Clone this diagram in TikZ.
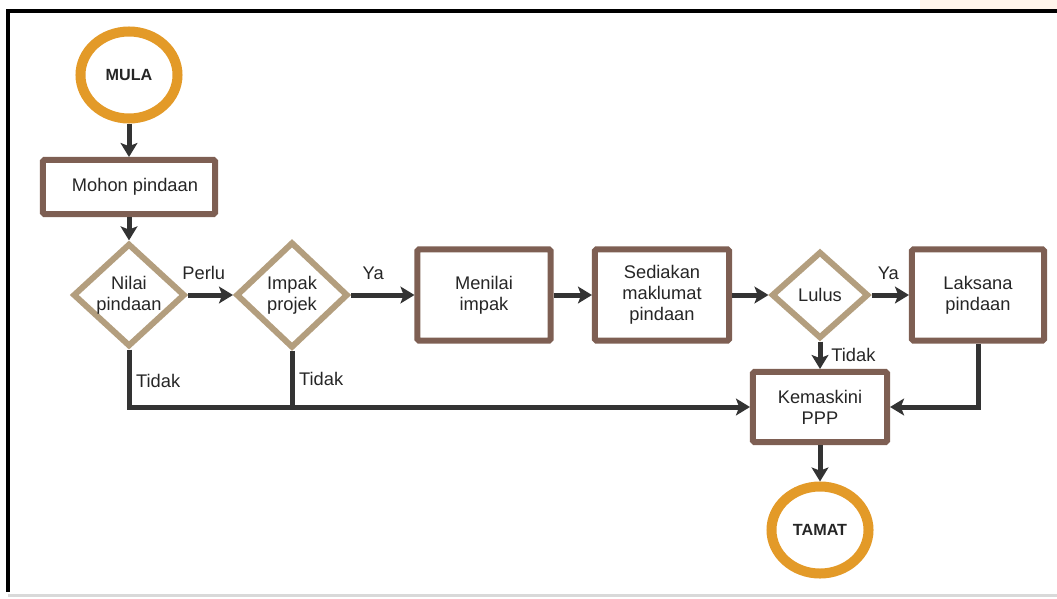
\documentclass[tikz,border=0pt]{standalone}
\usepackage{fontspec}
\setmainfont{Liberation Sans}
\usepackage{tikz}
\usetikzlibrary{arrows.meta, shapes.geometric}

\definecolor{terminal}{HTML}{E39A28}
\definecolor{process}{HTML}{7E5F53}
\definecolor{decision}{HTML}{B39E7E}
\definecolor{flow}{HTML}{333333}

\begin{document}
\begin{tikzpicture}[
  x=0.025cm, y=-0.025cm,
  font=\fontsize{13}{15}\selectfont,
  every node/.style={align=center, text=black!85},
  end node/.style={ellipse, draw=terminal, line width=0.25cm,
    minimum width=2.425cm, minimum height=2.175cm,
    font=\fontsize{11.5}{13}\selectfont\bfseries},
  box node/.style={rectangle, draw=process, line width=0.15cm,
    rounded corners=1pt, minimum height=2.275cm},
  test node/.style={diamond, draw=decision, line width=0.15cm, inner sep=0pt},
  flow line/.style={draw=flow, line width=0.125cm},
  flow arrow/.style={flow line,
    -{Stealth[length=0.35cm, width=0.42cm, inset=0.08cm]}},
  flow label/.style={above=6pt},
]
  \useasboundingbox (0,0) rectangle (1057,598);

  % Frame round the chart
  \fill[orange!8] (920,0) rectangle (1057,9);
  \draw[line width=0.1cm] (1057,11) -- (8,11) -- (8,592);
  \draw[black!15, line width=0.075cm] (8,595) -- (1057,595);

  % Print nodes
  \node[end node] (mula) at (129,75) {MULA};
  \node[box node, minimum width=4.3cm, minimum height=1.35cm]
    (mohon) at (129,187) {\hspace{0.3cm}Mohon pindaan};
  \node[test node, minimum width=2.8cm, minimum height=2.375cm]
    (nilai) at (129,295) {Nilai\\pindaan};
  \node[test node, minimum width=2.8cm, minimum height=2.65cm]
    (impak) at (292,295) {Impak\\projek};
  \node[box node, minimum width=3.325cm] (menilai) at (484,295) {Menilai\\impak};
  \node[box node, minimum width=3.35cm] (sediakan) at (662,295)
    {Sediakan\\maklumat\\pindaan};
  \node[test node, minimum width=2.425cm, minimum height=2.175cm]
    (lulus) at (820,295) {Lulus};
  \node[box node, minimum width=3.3cm] (laksana) at (978,295) {Laksana\\pindaan};
  \node[box node, minimum width=3.35cm, minimum height=1.75cm]
    (kemaskini) at (820,407) {Kemaskini\\PPP};
  \node[end node] (tamat) at (820,530) {TAMAT};

  % Draw the connectors
  \draw[flow arrow] (mula) -- (mohon);
  \draw[flow arrow] (mohon) -- (nilai);
  \draw[flow arrow] (nilai) -- node[flow label, pos=0.35] {Perlu} (impak);
  \draw[flow arrow] (impak) -- node[flow label, pos=0.35] {Ya} (menilai);
  \draw[flow arrow] (menilai) -- (sediakan);
  \draw[flow arrow] (sediakan) -- (lulus);
  \draw[flow arrow] (lulus) -- node[flow label, pos=0.45] {Ya} (laksana);
  \draw[flow arrow] (lulus) -- node[right, xshift=3pt] {Tidak} (kemaskini);
  \draw[flow arrow] (laksana) |- (kemaskini);
  \draw[flow arrow] (nilai) -- node[right, pos=0.55] {Tidak}
    (nilai |- kemaskini) -- (kemaskini);
  \draw[flow line] (impak) -- node[right] {Tidak} (impak |- kemaskini);
  \draw[flow arrow] (kemaskini) -- (tamat);
\end{tikzpicture}
\end{document}
